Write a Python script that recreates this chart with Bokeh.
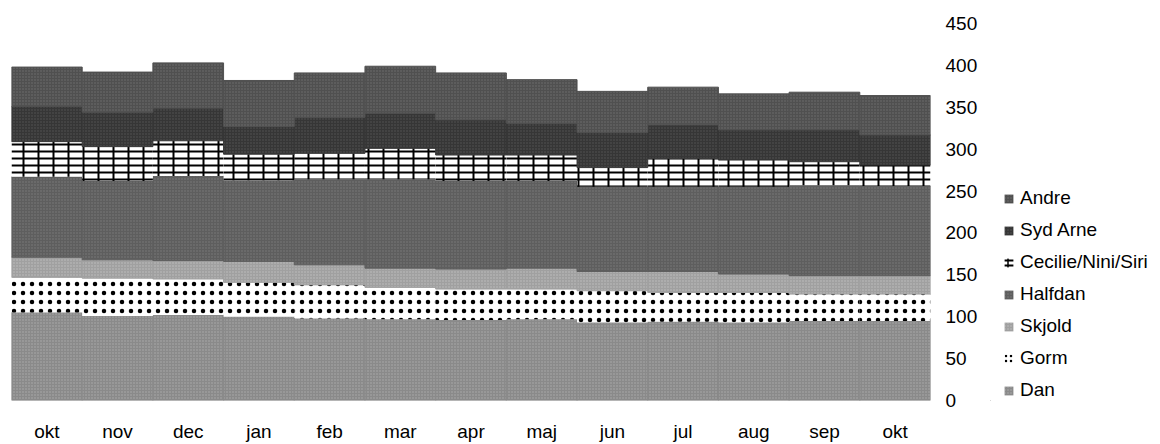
from bokeh.plotting import figure
from bokeh.layouts import row
from bokeh.models import Range1d, Legend, LegendItem, ColumnDataSource, FixedTicker
from bokeh.transform import stack
from bokeh.embed import file_html
from bokeh.resources import INLINE

months = ["okt", "nov", "dec", "jan", "feb", "mar", "apr", "maj", "jun", "jul", "aug", "sep", "okt"]
dan      = [105, 101, 102, 100, 98, 97, 96, 97, 93, 94, 93, 95, 95]
gorm     = [42, 45, 43, 41, 40, 38, 37, 36, 38, 35, 36, 32, 32]
skjold   = [24, 22, 22, 25, 24, 23, 24, 25, 23, 25, 22, 22, 22]
halfdan  = [96, 94, 101, 97, 102, 106, 105, 104, 101, 101, 104, 108, 107]
cecilie  = [42, 41, 42, 31, 31, 37, 31, 31, 23, 34, 32, 28, 25]
syd_arne = [42, 41, 39, 33, 43, 42, 42, 38, 42, 40, 36, 38, 36]
andre    = [47, 48, 54, 55, 53, 56, 56, 52, 49, 45, 43, 45, 47]
y_ticks = [0, 50, 100, 150, 200, 250, 300, 350, 400, 450]

x = list(range(len(months)))
src = ColumnDataSource(dict(x=x, dan=dan, gorm=gorm, skjold=skjold, halfdan=halfdan,
                            cecilie=cecilie, syd_arne=syd_arne, andre=andre))

H = 444
W1, W2 = 990, 162
p = figure(width=W1, height=H, x_range=Range1d(-0.5, len(months) - 0.5),
           y_range=Range1d(0, 450), y_axis_location="right",
           toolbar_location=None, output_backend="svg",
           min_border_left=11, min_border_right=W1 - 930, min_border_top=23,
           min_border_bottom=H - 402)
p.outline_line_color = None
p.grid.visible = False

order = ["dan", "gorm", "skjold", "halfdan", "cecilie", "syd_arne", "andre"]
styles = {
    "dan":      dict(fill_color="#8a8a8a", line_color="#8a8a8a", hatch_pattern="dot", hatch_scale=3, hatch_color="#d0d0d0", hatch_alpha=0.5, hatch_weight=1),
    "gorm":     dict(fill_color="#ffffff", line_color=None, hatch_pattern="dot", hatch_scale=9, hatch_color="#000000", hatch_weight=1.3),
    "skjold":   dict(fill_color="#a0a0a0", line_color="#a0a0a0", hatch_pattern="dot", hatch_scale=3, hatch_color="#e0e0e0", hatch_alpha=0.5, hatch_weight=1),
    "halfdan":  dict(fill_color="#5e5e5e", line_color="#5e5e5e", hatch_pattern="dot", hatch_scale=3, hatch_color="#a8a8a8", hatch_alpha=0.4, hatch_weight=1),
    "cecilie":  dict(fill_color="#ffffff", line_color=None, hatch_pattern="horizontal_line", hatch_scale=7, hatch_color="#000000", hatch_weight=2),
    "syd_arne": dict(fill_color="#363636", line_color="#363636", hatch_pattern="dot", hatch_scale=3, hatch_color="#8a8a8a", hatch_alpha=0.4, hatch_weight=1),
    "andre":    dict(fill_color="#505050", line_color="#505050", hatch_pattern="dot", hatch_scale=3, hatch_color="#a0a0a0", hatch_alpha=0.4, hatch_weight=1),
}
labels = {"dan": "Dan", "gorm": "Gorm", "skjold": "Skjold", "halfdan": "Halfdan",
          "cecilie": "Cecilie/Nini/Siri", "syd_arne": "Syd Arne", "andre": "Andre"}

for i, name in enumerate(order):
    below = order[:i]
    p.vbar(x="x", bottom=stack(*below), top=stack(*below, name), width=1.0,
           source=src, line_width=1, **styles[name])
    if name == "cecilie":
        p.vbar(x="x", bottom=stack(*below), top=stack(*below, name), width=1.0,
               source=src, line_color=None, fill_alpha=0, hatch_pattern="vertical_line",
               hatch_scale=15, hatch_color="#000000", hatch_weight=2)

xa = p.xaxis[0]
xa.ticker = FixedTicker(ticks=x)
xa.major_label_overrides = {i: m for i, m in enumerate(months)}
xa.axis_line_color = None
xa.major_tick_line_color = None
xa.minor_tick_line_color = None
xa.major_tick_out = 0
xa.major_label_standoff = 20
xa.major_label_text_line_height = 0.8
xa.major_label_text_font = "Liberation Sans"
xa.major_label_text_font_size = "19px"
xa.major_label_text_color = "#000000"

ya = p.yaxis[0]
ya.ticker = FixedTicker(ticks=y_ticks)
ya.axis_line_color = None
ya.major_tick_line_color = None
ya.minor_tick_line_color = None
ya.major_tick_out = 0
ya.major_label_standoff = 15
ya.major_label_text_font = "Liberation Sans"
ya.major_label_text_font_size = "19px"
ya.major_label_text_color = "#000000"

# legend panel: a second canvas holding only the legend (swatches reuse the series styles)
p2 = figure(width=W2, height=H, x_range=Range1d(0, 1), y_range=Range1d(0, 1),
            toolbar_location=None, output_backend="svg", min_border=0,
            x_axis_type=None, y_axis_type=None)
p2.outline_line_color = None
p2.grid.visible = False
swatch = ColumnDataSource(dict(x=[-10], b=[-10], t=[-9]))
legend_styles = {n: dict(s, line_color=None) for n, s in styles.items()}
legend_styles["gorm"] = dict(legend_styles["gorm"], hatch_scale=5, hatch_weight=1.4)
legend_styles["cecilie"] = dict(legend_styles["cecilie"], hatch_scale=5)
items = []
for name in reversed(order):
    rs = [p2.vbar(x="x", bottom="b", top="t", width=1.0, source=swatch, **legend_styles[name])]
    if name == "cecilie":
        rs.append(p2.vbar(x="x", bottom="b", top="t", width=1.0, source=swatch, line_color=None,
                          fill_alpha=0, hatch_pattern="vertical_line", hatch_scale=8,
                          hatch_color="#000000", hatch_weight=1.5))
    items.append(LegendItem(label=labels[name], renderers=rs, index=0))

legend = Legend(items=items, location=(1003 - W1, H - 402 - 44), orientation="vertical",
                glyph_width=11, glyph_height=11, label_standoff=6, label_height=24,
                spacing=8, padding=0, margin=0, border_line_color=None,
                background_fill_alpha=0, label_text_font="Liberation Sans",
                label_text_font_size="19px", label_text_color="#000000")
p2.add_layout(legend)

layout = row(p, p2)
open("out.html", "w").write(file_html(layout, INLINE))
